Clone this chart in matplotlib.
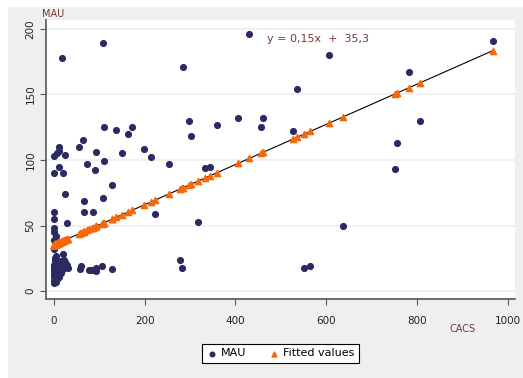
import matplotlib.pyplot as plt
import numpy as np
from matplotlib.patches import Rectangle

# CACS / MAU pairs
cacs = [17, 108, 284, 431, 606, 535, 783, 967,
        1, 7, 12, 12, 24, 10, 1, 19,
        55, 64, 73, 93, 90, 110, 110, 137, 151, 164, 173, 199, 214, 253,
        297, 303, 334, 345, 359, 406, 456, 461, 528, 806, 757, 753,
        129, 25, 67, 107, 66, 85, 29, 223, 318, 637,
        0, 0, 0, 0, 4, 1, 1, 20,
        278, 282, 552, 565,
        57, 60, 77, 83, 92, 93, 105, 127,
        0, 1, 2, 0, 3, 1, 5, 0, 2, 4, 1, 6, 0, 3, 8, 2, 5, 10, 12, 14,
        9, 7, 11, 6, 4, 15, 18, 22, 25, 28, 20, 16, 30, 2, 0, 3, 8, 13, 4]
mau = [178, 189, 171, 196, 180, 154, 167, 191,
       103, 105, 110, 107, 104, 95, 90, 90,
       110, 115, 97, 106, 92, 99, 125, 123, 105, 120, 125, 108, 102, 97,
       130, 118, 94, 95, 127, 132, 125, 132, 122, 130, 113, 93,
       81, 74, 69, 71, 60, 60, 52, 59, 53, 50,
       60, 55, 48, 45, 42, 39, 32, 28,
       24, 18, 18, 19,
       17, 19, 16, 16, 18, 15, 19, 17,
       6, 8, 10, 11, 12, 13, 14, 15, 16, 17, 18, 19, 20, 21, 22, 23, 24, 22, 20, 18,
       16, 13, 11, 9, 7, 23, 21, 24, 22, 20, 17, 14, 18, 25, 17, 9, 12, 15, 27]

# regression line as it sits in the picture (label rounds it to 0,15)
slope = 0.153
intercept = 35.3

x_ticks = [0, 200, 400, 600, 800, 1000]
y_ticks = [0, 50, 100, 150, 200]
equation = "y = 0,15x  +  35,3"

navy = "#2b2a63"
orange = "#f7680c"
label_col = "#74393b"

x = np.array(cacs, dtype=float)
y = np.array(mau, dtype=float)
fitted = intercept + slope * x

fig = plt.figure(figsize=(5.23, 3.78), dpi=100)
fig.patch.set_facecolor("white")
fig.patches.append(Rectangle((8 / 523, 0), 1 - 8 / 523, 1 - 7 / 378,
                             transform=fig.transFigure, facecolor="#efefef",
                             edgecolor="none", zorder=-10))

ax = fig.add_axes([46 / 523, 1 - 299 / 378, (515 - 46) / 523, (299 - 20) / 378])
ax.set_facecolor("white")
ax.set_xlim(-17.6, 1016.5)
ax.set_ylim(-6, 206.7)

for v in y_ticks:
    ax.axhline(v, color="#eeeeee", lw=1.2, zorder=0)

ax.scatter(x, y, s=17, color=navy, zorder=3, label="MAU")
order = np.argsort(x)
ax.plot(x[order], fitted[order], color="black", lw=0.8, zorder=2)
ax.scatter(x, fitted, marker="^", s=20, color=orange, zorder=4, label="Fitted values")

ax.set_xticks(x_ticks)
ax.set_yticks(y_ticks)
ax.tick_params(axis="both", labelsize=7.5, color="#555555", length=4, labelcolor="#222222")
ax.tick_params(axis="x", pad=8)
plt.setp(ax.get_yticklabels(), rotation=90, va="center")
for s in ["top", "right"]:
    ax.spines[s].set_visible(False)
for s in ["left", "bottom"]:
    ax.spines[s].set_color("#555555")
    ax.spines[s].set_linewidth(1.2)

ax.text(470, 192.5, equation, color=label_col, fontsize=8, va="center", ha="left")
fig.text(42 / 523, 1 - 14 / 378, "MAU", color=label_col, fontsize=7, va="center", ha="left")
fig.text(463 / 523, 1 - 329 / 378, "CACS", color=label_col, fontsize=7, va="center", ha="center")

leg = fig.legend(loc="center", bbox_to_anchor=(0.536, 0.065), ncol=2, fontsize=8,
                 frameon=True, fancybox=False, edgecolor="black", framealpha=1,
                 handletextpad=0.3, columnspacing=2.0, borderpad=0.4,
                 handlelength=1.0, markerscale=0.8)
leg.get_frame().set_linewidth(0.8)

fig.savefig("out.png", dpi=100)
